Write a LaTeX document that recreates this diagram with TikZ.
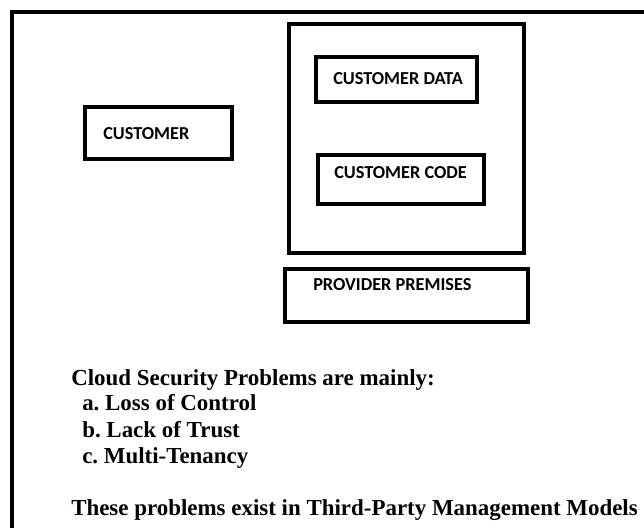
\documentclass[tikz,border=0pt]{standalone}
\usepackage{fontspec}
\setmainfont{Liberation Serif}
\newfontfamily\boxfont{Carlito}
\frenchspacing
\begin{document}
\begin{tikzpicture}[x=0.75pt,y=-0.75pt,
  frame/.style={draw=black,line width=3pt},
  boxstyle/.style={draw=black,line width=2.6pt,inner sep=0pt,minimum width=#1},
  boxlabel/.style={anchor=west,inner sep=0pt,font=\boxfont\bfseries\fontsize{13.7}{15}\selectfont},
  textline/.style={anchor=base west,inner sep=0pt,font=\bfseries\fontsize{17.2}{20}\selectfont}]
\useasboundingbox (0,0) rectangle (644,528);
% outer frame (partially visible)
\draw[frame] (11.5,528) -- (11.5,12) -- (644,12);
% boxes
\node[boxstyle=147*0.75pt,minimum height=52*0.75pt] (cust) at (158.5,133) {};
\node[boxstyle=235*0.75pt,minimum height=229*0.75pt] (prov) at (406.5,138.5) {};
\node[boxstyle=161*0.75pt,minimum height=45*0.75pt] (data) at (396.5,79.5) {};
\node[boxstyle=166*0.75pt,minimum height=49*0.75pt] (code) at (401,179.5) {};
\node[boxstyle=243*0.75pt,minimum height=53*0.75pt] (prem) at (406.5,295.5) {};
% box labels
\node[boxlabel] (custt) at (103,134) {CUSTOMER};
\node[boxlabel] (datat) at (333,79) {CUSTOMER DATA};
\node[boxlabel] (codet) at (334,173) {CUSTOMER CODE};
\node[boxlabel] (premt) at (313,285) {PROVIDER PREMISES};
% text
\node[textline] (l1) at (71,385) {Cloud Security Problems are mainly:};
\node[textline] (l2) at (82,411) {a. Loss of Control};
\node[textline] (l3) at (82,437) {b. Lack of Trust};
\node[textline] (l4) at (82,464) {c. Multi-Tenancy};
\node[textline] (l5) at (71,515) {These problems exist in Third-Party Management Models};
\end{tikzpicture}
\end{document}
